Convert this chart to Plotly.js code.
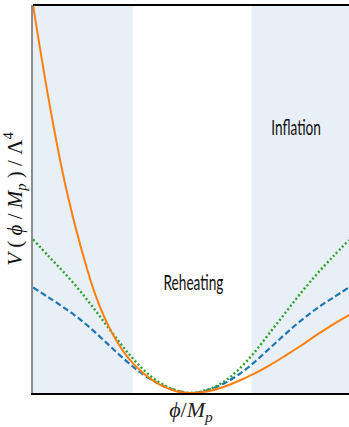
<!DOCTYPE html>
<html>
<head>
<meta charset="utf-8">
<script src="https://cdn.plot.ly/plotly-3.0.1.min.js"></script>
<style>
  html, body { margin: 0; padding: 0; background: #ffffff; }
  #chart { width: 349px; height: 427px; }
  /* narrow, tall lettering for the phase labels */
  #chart .annotation-text {
    transform-box: fill-box;
    transform-origin: center;
    transform: scale(0.62, 1);
  }
</style>
</head>
<body>
<div id="chart"></div>
<script>
// Field values in units of M_p (shifted so the minimum sits at 0)
const phi = [-1.0, -0.9, -0.8, -0.7, -0.6, -0.5, -0.4, -0.3, -0.2, -0.1, 0.0,
             0.1, 0.2, 0.3, 0.4, 0.5, 0.6, 0.7, 0.8, 0.9, 1.0];

// Potentials normalised to Lambda^4
const vSteep  = [1.000, 0.755, 0.545, 0.380, 0.247, 0.155, 0.092, 0.050, 0.022, 0.005, 0.0,
                 0.004, 0.015, 0.031, 0.050, 0.072, 0.097, 0.123, 0.151, 0.177, 0.201];
const vDashed = [0.272, 0.246, 0.219, 0.189, 0.154, 0.116, 0.079, 0.047, 0.023, 0.007, 0.0,
                 0.007, 0.023, 0.047, 0.079, 0.116, 0.153, 0.188, 0.219, 0.246, 0.272];
const vDotted = [0.396, 0.352, 0.309, 0.262, 0.210, 0.156, 0.104, 0.060, 0.027, 0.008, 0.0,
                 0.008, 0.027, 0.060, 0.104, 0.156, 0.208, 0.260, 0.308, 0.352, 0.394];

// Field ranges of the two inflationary plateaus (reheating lies between)
const inflationLeft  = [-1.0, -0.369];
const inflationRight = [0.384, 1.0];

const phaseLabels = ["Reheating", "Inflation"];
const phaseX = [0.013, 0.665];
const phaseY = [0.287, 0.688];

const traces = [
  { x: phi, y: vDashed, mode: "lines", hoverinfo: "skip",
    line: { color: "#1f77b4", width: 2.2, dash: "6px,3px", shape: "spline", smoothing: 1 } },
  { x: phi, y: vDotted, mode: "lines", hoverinfo: "skip",
    line: { color: "#2ca02c", width: 2.4, dash: "2px,2.4px", shape: "spline", smoothing: 1 } },
  { x: phi, y: vSteep, mode: "lines", hoverinfo: "skip",
    line: { color: "#ff7f0e", width: 2.0, shape: "spline", smoothing: 1 } }
];

const shade = "#e8eff6";
const shapes = [inflationLeft, inflationRight].map(r => ({
  type: "rect", xref: "x", yref: "paper", x0: r[0], x1: r[1], y0: 0, y1: 1,
  fillcolor: shade, line: { width: 0 }, layer: "below"
}));
// top border
shapes.push({ type: "line", xref: "paper", yref: "paper", x0: 0, x1: 1, y0: 1, y1: 1,
  line: { color: "#000000", width: 2 } });

const annotations = phaseLabels.map((t, i) => ({
  x: phaseX[i], y: phaseY[i], xref: "x", yref: "y", text: t, showarrow: false,
  font: { family: "Lato, Liberation Sans, sans-serif", size: 22, color: "#111111" }
}));

const layout = {
  width: 349, height: 427,
  margin: { l: 33, r: 0, t: 5, b: 34, pad: 0 },
  paper_bgcolor: "#ffffff", plot_bgcolor: "#ffffff",
  showlegend: false,
  xaxis: {
    range: [-1.0, 1.0], showgrid: false, zeroline: false, showticklabels: false, ticks: "",
    showline: true, linecolor: "#000000", linewidth: 2,
    title: { text: "<i>ϕ</i>/<i>M</i><sub><i>p</i></sub>", standoff: 8,
      font: { family: "Liberation Serif, DejaVu Serif, serif", size: 22, color: "#222222" } }
  },
  yaxis: {
    range: [0, 1.0], showgrid: false, zeroline: false, showticklabels: false, ticks: "",
    showline: true, linecolor: "#8c8c8c", linewidth: 2,
    title: { text: "<i>V</i> ( <i>ϕ</i> / <i>M</i><sub><i>p</i></sub> ) / Λ<sup>4</sup>", standoff: 4,
      font: { family: "Liberation Serif, DejaVu Serif, serif", size: 21, color: "#111111" } }
  },
  shapes: shapes,
  annotations: annotations
};

Plotly.newPlot("chart", traces, layout, { displayModeBar: false, staticPlot: true });
</script>
</body>
</html>
